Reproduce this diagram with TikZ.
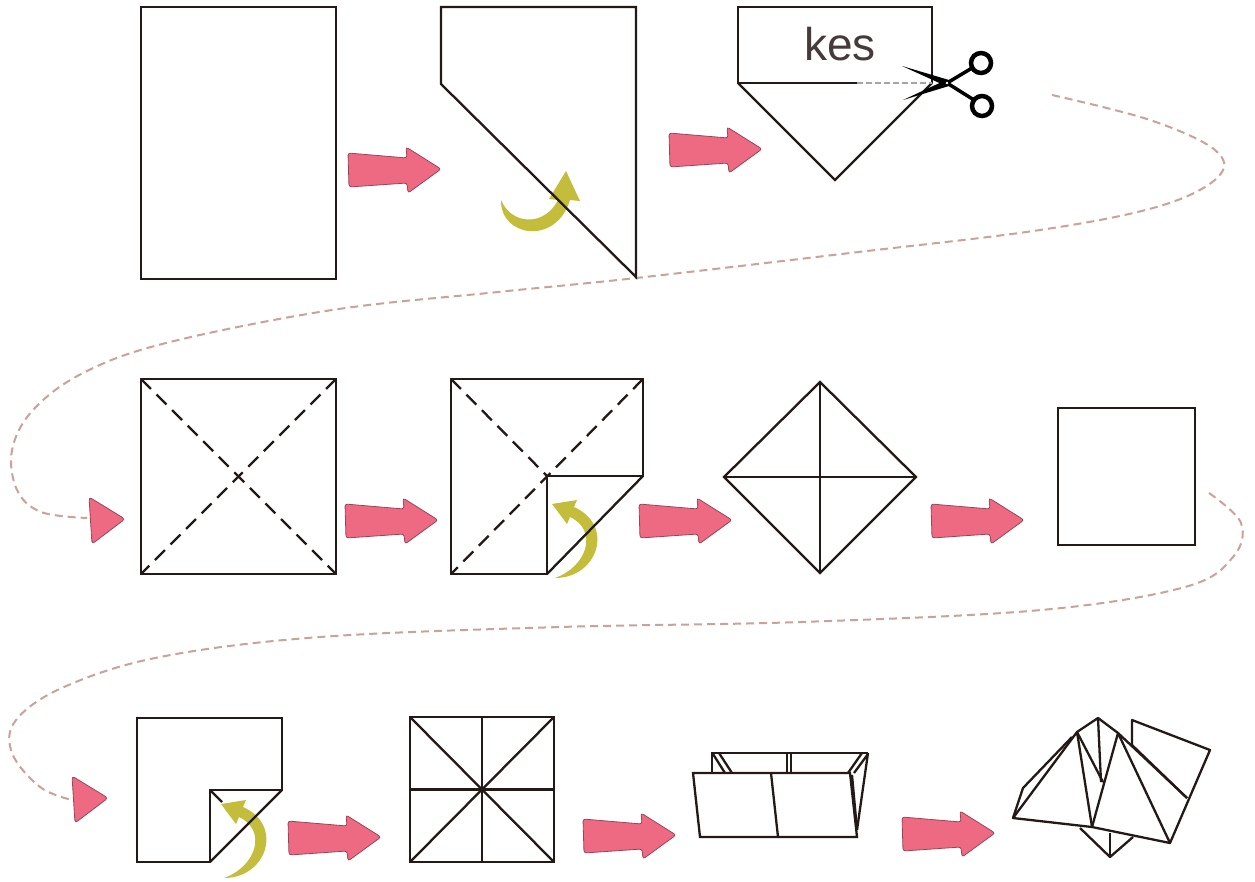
\documentclass[tikz,border=0pt]{standalone}
\usepackage{fontspec}
\newfontfamily\labelfont{Liberation Sans}
\definecolor{ink}{HTML}{231917}
\definecolor{trailc}{HTML}{C9A29B}
\definecolor{pinkc}{HTML}{EE6A83}
\definecolor{pinkedge}{HTML}{9A4555}
\definecolor{foldc}{HTML}{C4BD3C}
\definecolor{cutc}{HTML}{A8A4A4}
\tikzset{
  paper/.style={draw=ink, line width=2.3pt, line join=miter},
  crease/.style={draw=ink, line width=2.3pt, dash pattern=on 14pt off 8pt},
  trail/.style={draw=trailc, line width=2pt, dash pattern=on 8pt off 5pt},
  pinkarrow/.pic={
    \path[fill=pinkc, draw=pinkedge, line width=0.8pt, rounded corners=2.5pt]
      (0,-17) -- (59,-12) -- (58,-23) -- (93,-1) -- (60,23) -- (59,13) -- (1,17) -- cycle;
  },
  pinktip/.pic={
    \path[fill=pinkc, draw=pinkedge, line width=0.8pt, rounded corners=3pt]
      (0,-22) -- (36,0) -- (3,25) -- cycle;
  },
  foldcurl/.pic={
    \fill[foldc] (0,0) .. controls (43,0) and (60,-53) .. (19,-71)
      -- (22,-78) -- (-3,-74) -- (12,-54) -- (15,-61)
      .. controls (43,-48) and (33,-12) .. (0,0) -- cycle;
  },
}
\begin{document}
\begin{tikzpicture}[x=1pt,y=-1pt]
\useasboundingbox (0,0) rectangle (1255,881);
\fill[white] (0,0) rectangle (1255,881);

% ---------- dashed trails between the rows ----------
\coordinate (trailAstart) at (1052,95);
\coordinate (trailAend) at (87,518);
\coordinate (trailBstart) at (1209,493);
\coordinate (trailBend) at (72,800);
\draw[trail] plot[smooth, tension=0.6] coordinates {
  (trailAstart) (1150,120) (1215,150) (1218,177) (1160,206) (1040,230)
  (850,253) (636,278) (498,292) (332,310) (166,343) (83,373) (33,410)
  (12,450) (17,490) (41,512) (trailAend)};
\draw[trail] plot[smooth, tension=0.6] coordinates {
  (trailBstart) (1241,523) (1233,557) (1185,587) (1041,610) (801,622)
  (560,627) (320,637) (160,657) (64,687) (16,720) (12,753) (40,787) (trailBend)};

% ---------- pink step arrows ----------
\pic at (348,170) {pinkarrow};
\pic at (669,150) {pinkarrow};
\pic at (345,521) {pinkarrow};
\pic at (639,521) {pinkarrow};
\pic at (931,521) {pinkarrow};
\pic at (288,838) {pinkarrow};
\pic at (583,836) {pinkarrow};
\pic at (902,834) {pinkarrow};
\pic at (89,519) {pinktip};
\pic at (72,798) {pinktip};

% ---------- yellow fold arrows ----------
\fill[foldc] (501,200) .. controls (500,237) and (556,246) .. (570,200)
  -- (580,201) -- (566,171) -- (549,199) -- (558,200)
  .. controls (545,226) and (512,226) .. (501,200) -- cycle;
\pic at (555,578) {foldcurl};
\pic at (224,878) {foldcurl};

% ---------- row 1 ----------
\draw[paper] (141,7) rectangle (336,279);
\draw[paper] (441,84) -- (441,7) -- (636,7) -- (636,277) -- cycle;

\draw[paper] (857,83) -- (738,83) -- (738,7) -- (932,7) -- (932,83);
\draw[paper] (738,83) -- (835,180) -- (932,83);
\draw[draw=cutc, line width=2pt, dash pattern=on 6pt off 3pt] (857,83) -- (932,83);
\node[font=\labelfont\fontsize{46}{46}\selectfont, text=ink!85, anchor=base, inner sep=0pt]
  (cutlabel) at (840,60) {kes};

% scissors
\fill[black] (902,66) -- (949,80) -- (946,86) -- cycle;
\fill[black] (903,100) -- (946,80) -- (949,86) -- cycle;
\draw[black, line width=3.5pt] (947,83) -- (972,68);
\draw[black, line width=3.5pt] (947,83) -- (974,100);
\draw[black, line width=4.5pt] (981,63) circle[radius=10];
\draw[black, line width=4.5pt] (982,106) circle[radius=10];
\fill[white] (947,83) circle[radius=1.4];

% ---------- row 2 ----------
\draw[paper] (141,379) rectangle (336,574);
\draw[crease] (141,379) -- (336,574);
\draw[crease] (336,379) -- (141,574);

\draw[crease] (451,379) -- (547,476);
\draw[crease] (643,379) -- (451,574);
\draw[paper] (451,379) -- (643,379) -- (643,476) -- (547,476) -- (547,574) -- (451,574) -- cycle;
\draw[paper] (547,574) -- (643,476);

\draw[paper] (820,382) -- (916,477) -- (820,573) -- (724,477) -- cycle;
\draw[paper] (724,477) -- (916,477);
\draw[paper] (820,382) -- (820,573);

\draw[paper] (1058,408) rectangle (1195,545);

% ---------- row 3 ----------
\draw[paper] (137,718) -- (282,718) -- (282,790) -- (210,790) -- (210,862) -- (137,862) -- cycle;
\draw[paper] (210,862) -- (282,790);
\draw[paper] (210,790) -- (222,802);

\draw[paper] (410,717) rectangle (554,862);
\draw[paper] (410,717) -- (554,862);
\draw[paper] (554,717) -- (410,862);
\draw[paper] (482,717) -- (482,862);
\draw[paper, line width=2.8pt] (410,789.5) -- (554,789.5);

% open box
\draw[paper] (712,773) -- (712,753) -- (868,753);
\draw[paper] (713,754) -- (725,773);
\draw[paper] (719,753) -- (732,773);
\draw[paper] (787,753) -- (787,773);
\draw[paper] (791,753) -- (791,773);
\draw[paper] (862,753) -- (848,773);
\draw[paper] (868,754) -- (854,773);
\draw[paper] (868,753) -- (857,830);
\draw[paper] (852,775) -- (857,830);
\draw[paper] (693,773) -- (850,773) -- (857,837) -- (700,837) -- cycle;
\draw[paper] (771,773) -- (778,837);

% fortune teller
\begin{scope}[paper, line join=round]
  \draw (1013,818) -- (1077,732) -- (1092,827) -- cycle;
  \draw (1013,818) -- (1023,788) -- (1072,737);
  \draw (1077,732) -- (1103,782);
  \draw (1077,732) -- (1098,718) -- (1101,782);
  \draw (1098,718) -- (1118,733);
  \draw (1118,733) -- (1092,827) -- (1170,843) -- cycle;
  \draw (1132,745) -- (1132,720) -- (1210,750) -- (1170,843);
  \draw (1118,733) -- (1187,798);
  \draw (1132,745) -- (1187,798);
  \draw (1080,828) -- (1110,857) -- (1133,837);
  \draw (1110,833) -- (1110,857);
\end{scope}
\end{tikzpicture}
\end{document}
